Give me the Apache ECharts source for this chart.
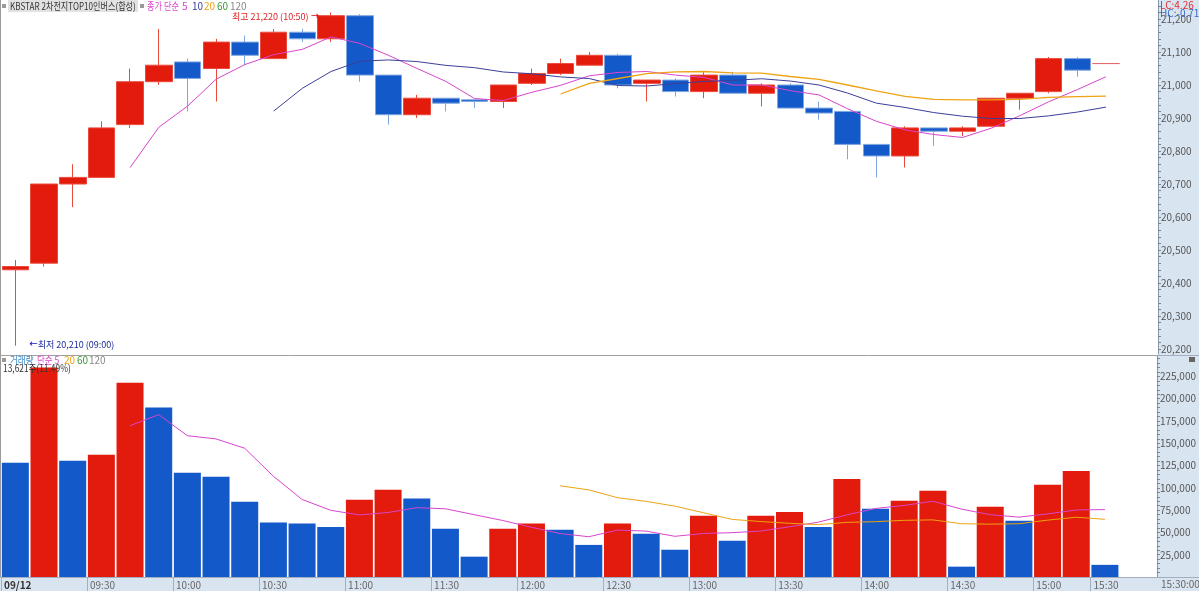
<!DOCTYPE html>
<html><head><meta charset="utf-8">
<script src="https://cdn.jsdelivr.net/npm/echarts@6/dist/echarts.min.js"></script>
<style>html,body{margin:0;padding:0;background:#fff}#c{width:1199px;height:591px}</style>
</head><body><div id="c"></div>
<script>
// ---- data ----
const times = ['09:00','09:10','09:20','09:30','09:40','09:50','10:00','10:10','10:20','10:30',
  '10:40','10:50','11:00','11:10','11:20','11:30','11:40','11:50','12:00','12:10',
  '12:20','12:30','12:40','12:50','13:00','13:10','13:20','13:30','13:40','13:50',
  '14:00','14:10','14:20','14:30','14:40','14:50','15:00','15:10','15:30'];
const opens  = [20440,20460,20700,20720,20880,21010,21070,21050,21130,21080,
  21160,21140,21210,21030,20910,20960,20955,20950,21005,21035,
  21060,21090,21005,21015,20980,21030,20975,21000,20930,20920,
  20820,20785,20870,20860,20875,20960,20980,21080,21065];
const closes = [20450,20700,20720,20870,21010,21060,21020,21130,21090,21160,
  21140,21210,21030,20910,20960,20945,20950,21000,21035,21065,
  21090,21000,21015,20980,21030,20975,21000,20930,20915,20820,
  20785,20870,20860,20870,20960,20975,21080,21045,21065];
const lows   = [20210,20450,20630,20720,20870,21000,20920,20950,21060,21080,
  21130,21130,21010,20880,20900,20920,20930,20930,21000,21030,
  21060,20990,20950,20965,20960,20975,20935,20930,20895,20775,
  20720,20750,20815,20845,20875,20925,20975,21025,21065];
const highs  = [20470,20700,20760,20890,21050,21170,21080,21140,21150,21170,
  21170,21220,21215,21030,20970,20960,20955,21000,21050,21080,
  21100,21095,21015,21020,21040,21040,21005,21005,20950,20920,
  20820,20875,20870,20875,20960,20975,21085,21085,21065];
const volumes = [128200,235000,130500,137000,218000,190000,117000,112500,84500,61000,
  60000,56000,86700,98000,88000,54000,22800,54000,60000,53000,
  36000,60000,48600,30600,68800,40700,68800,73000,56000,110000,
  76600,85600,96800,11600,78900,63000,103500,119000,13621];
const priceTicks = [20200,20300,20400,20500,20600,20700,20800,20900,21000,21100,21200];
const volumeTicks = [25000,50000,75000,100000,125000,150000,175000,200000,225000];
const timeTickSlots = [0,3,6,9,12,15,18,21,24,27,30,33,36,38];
const timeTickLabels = ['09/12','09:30','10:00','10:30','11:00','11:30','12:00','12:30','13:00','13:30','14:00','14:30','15:00','15:30'];

// ---- derived ----
const cats = times.concat(['']);          // one empty slot after the close
function sma(arr, n){ // simple moving average of the series, as in the chart legend (단순)
  return arr.map((v,i)=>{ if(i<n-1) return '-'; let s=0; for(let k=i-n+1;k<=i;k++) s+=arr[k]; return +(s/n).toFixed(2); });
}
const RED='#e31b0c', BLUE='#1459c9', MAG='#d845cc', NAVY='#3b3f98', GOLD='#eea313', GREEN='#3a9a3a', GRAY='#888';
const FONT='"Noto Sans CJK KR","Noto Sans",sans-serif';
const candleData = times.map((t,i)=>[opens[i],closes[i],lows[i],highs[i]]);
const volData = volumes.map((v,i)=>({value:v, itemStyle:{color:(i>0 && v>volumes[i-1])?RED:BLUE}}));
const fmt = v => v.toLocaleString('en-US');
let hiIdx=0, loIdx=0;
highs.forEach((h,i)=>{ if(h>highs[hiIdx]) hiIdx=i; });
lows.forEach((l,i)=>{ if(l<lows[loIdx]) loIdx=i; });
const priceTickMarks=[]; for(let p=20200;p<=21240;p+=20) priceTickMarks.push(p);
const volTickMarks=[]; for(let v=5000;v<=245000;v+=5000) volTickMarks.push(v);

const PMIN=20184.85, PMAX=21257.6, VMAX=247900;
const gridL=1, gridW=1148;

const chart = echarts.init(document.getElementById('c'));
const hiddenCat = gi => ({type:'category', gridIndex:gi, data:cats, boundaryGap:true,
  axisLine:{show:false, onZero:false}, axisTick:{show:false}, axisLabel:{show:false}, splitLine:{show:false}});
const txt = (x,y,text,fill,size,extra) => Object.assign({type:'text', x:x, y:y, z:100,
  style:{text:text, fill:fill, font:(size||10)+'px '+FONT, verticalAlign:'middle', align:'left'}}, extra||{});

chart.setOption({
  animation:false,
  backgroundColor:'#fff',
  grid:[
    {left:gridL, top:0, width:gridW, height:354},
    {left:gridL, top:356, width:gridW, height:221}
  ],
  xAxis:[
    hiddenCat(0), hiddenCat(1),
    {type:'value', gridIndex:1, min:0, max:40, position:'bottom',
      axisLine:{show:false, onZero:false}, splitLine:{show:false},
      axisTick:{show:true, customValues:timeTickSlots, length:14, lineStyle:{color:'#9fb0c6'}},
      axisLabel:{customValues:timeTickSlots, align:'left', margin:3, padding:[0,0,0,3],
        fontSize:10, fontFamily:FONT, color:'#666',
        formatter:v=>{const i=timeTickSlots.indexOf(Math.round(v)); if(i<0) return ''; return i===0?'{b|'+timeTickLabels[0]+'}':timeTickLabels[i];},
        rich:{b:{fontWeight:'bold', color:'#333', fontSize:10, fontFamily:FONT}}}}
  ],
  yAxis:[
    {type:'value', gridIndex:0, position:'right', offset:9, min:PMIN, max:PMAX,
      axisLine:{show:true, onZero:false, lineStyle:{color:'#8b97aa'}}, splitLine:{show:false},
      axisTick:{show:true, customValues:priceTickMarks, length:3, lineStyle:{color:'#7a8496'}},
      axisLabel:{customValues:priceTicks, formatter:fmt, fontSize:10, fontFamily:FONT, color:'#555', margin:3}},
    {type:'value', gridIndex:1, position:'right', offset:9, min:0, max:VMAX,
      axisLine:{show:true, onZero:false, lineStyle:{color:'#8b97aa'}}, splitLine:{show:false},
      axisTick:{show:true, customValues:volTickMarks, length:3, lineStyle:{color:'#7a8496'}},
      axisLabel:{customValues:volumeTicks, formatter:fmt, fontSize:10, fontFamily:FONT, color:'#555', margin:3}}
  ],
  series:[
    {type:'candlestick', xAxisIndex:0, yAxisIndex:0, data:candleData, barWidth:27,
      itemStyle:{color:RED, color0:BLUE, borderColor:'#ea4a3c', borderColor0:'#7fa6df', borderColorDoji:'#e06a6a', borderWidth:1},
      markPoint:{symbol:'circle', symbolSize:0, silent:true,
        data:[
          {coord:[hiIdx, highs[hiIdx]], label:{show:true, position:'left', distance:12, offset:[0,4],
            formatter:'최고 '+fmt(highs[hiIdx])+' ('+times[hiIdx]+') {a|→}', color:'#d22', fontSize:9, fontFamily:FONT,
            rich:{a:{fontFamily:'DejaVu Sans', fontSize:10, color:'#e00'}}}},
          {coord:[loIdx, lows[loIdx]], label:{show:true, position:'right', distance:14, offset:[0,-1],
            formatter:'{a|←}최저 '+fmt(lows[loIdx])+' ('+times[loIdx]+')', color:'#1a2a9a', fontSize:9, fontFamily:FONT,
            rich:{a:{fontFamily:'DejaVu Sans', fontSize:10, color:'#1010c0'}}}}
        ]}},
    {type:'line', name:'MA5', xAxisIndex:0, yAxisIndex:0, data:sma(closes,5), symbol:'none', lineStyle:{width:1, color:MAG}, z:3},
    {type:'line', name:'MA10', xAxisIndex:0, yAxisIndex:0, data:sma(closes,10), symbol:'none', lineStyle:{width:1, color:NAVY}, z:3},
    {type:'line', name:'MA20', xAxisIndex:0, yAxisIndex:0, data:sma(closes,20), symbol:'none', lineStyle:{width:1.3, color:GOLD}, z:3},
    {type:'bar', xAxisIndex:1, yAxisIndex:1, data:volData, barWidth:27},
    {type:'line', name:'VMA5', xAxisIndex:1, yAxisIndex:1, data:sma(volumes,5), symbol:'none', lineStyle:{width:1, color:MAG}, z:3},
    {type:'line', name:'VMA20', xAxisIndex:1, yAxisIndex:1, data:sma(volumes,20), symbol:'none', lineStyle:{width:1, color:GOLD}, z:3}
  ],
  graphic:[
    {type:'rect', z:-10, shape:{x:1158, y:0, width:41, height:591}, style:{fill:'#d9e4f1'}},
    {type:'rect', z:-10, shape:{x:0, y:578, width:1199, height:13}, style:{fill:'#d9e4f1'}},
    {type:'line', z:50, shape:{x1:0.5, y1:0, x2:0.5, y2:578}, style:{stroke:'#9a9a9a', lineWidth:1}},
    {type:'line', z:50, shape:{x1:0, y1:355.5, x2:1158, y2:355.5}, style:{stroke:'#a0a0a0', lineWidth:1}},
    {type:'line', z:50, shape:{x1:0, y1:577.5, x2:1199, y2:577.5}, style:{stroke:'#a3afc0', lineWidth:1}},
    {type:'line', z:50, shape:{x1:1158, y1:355.5, x2:1199, y2:355.5}, style:{stroke:'#a3afc0', lineWidth:1}},
    {type:'rect', z:90, shape:{x:8, y:0, width:130, height:12}, style:{fill:'#e2e2e2'}},
    {type:'rect', z:90, shape:{x:2, y:4, width:4, height:4}, style:{fill:'#999'}},
    txt(10, 6.5, 'KBSTAR 2차전지TOP10인버스(합성)', '#333', 10, {scaleX:0.81}),
    {type:'rect', z:90, shape:{x:140, y:4, width:4, height:4}, style:{fill:'#999'}},
    txt(147, 6.5, '종가 단순', MAG, 10, {scaleX:0.82}),
    txt(182, 6.5, '5', MAG, 10),
    txt(192, 6.5, '10', NAVY, 10),
    txt(204, 6.5, '20', GOLD, 10),
    txt(217, 6.5, '60', GREEN, 10),
    txt(230, 6.5, '120', GRAY, 10),
    txt(1160, 5, 'LC:4.26', '#e03030', 10),
    txt(1160, 13, 'HC:-0.71', '#3a6cc8', 10),
    {type:'rect', z:90, shape:{x:2, y:358, width:4, height:4}, style:{fill:'#999'}},
    txt(10, 360, '거래량', '#3a8ac8', 10, {scaleX:0.85}),
    txt(37, 360, '단순 5', MAG, 10, {scaleX:0.85}),
    txt(64, 360, '20', GOLD, 10),
    txt(77, 360, '60', GREEN, 10),
    txt(89, 360, '120', GRAY, 10),
    txt(3, 368.5, '13,621주(11.49%)', '#333', 10, {scaleX:0.84}),
    {type:'rect', z:90, shape:{x:1189, y:357, width:6, height:5}, style:{fill:'#666'}},
    txt(1161, 584.5, '15:30:00', '#666', 10)
  ]
});
</script></body></html>
